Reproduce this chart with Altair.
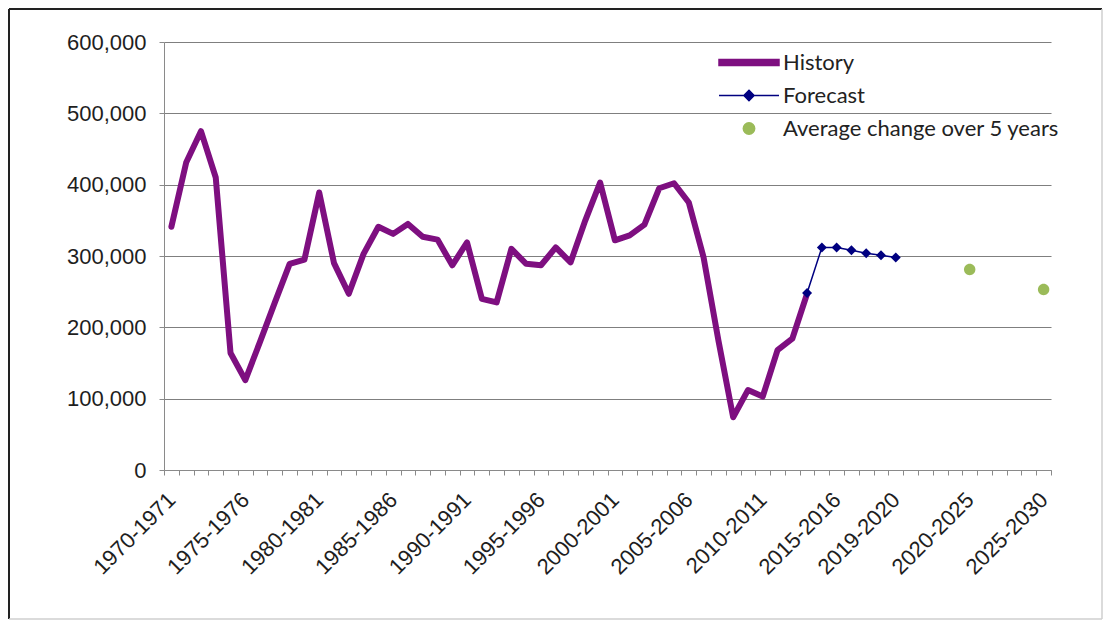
import altair as alt
import pandas as pd

# ---- data ----
series_names = ["History", "Forecast", "Average change over 5 years"]

# category index 0 = 1970-1971 ... 49 = 2019-2020, 54 = 2020-2025, 59 = 2025-2030
hist_idx = list(range(0, 44))
hist_values = [341000, 431000, 475000, 410000, 164000, 126000, 180000, 235000, 289000, 295000,
               389000, 290000, 247000, 303000, 341000, 331000, 345000, 327000, 323000, 287000,
               319000, 240000, 235000, 310000, 289000, 287000, 312000, 291000, 350000, 403000,
               322000, 329000, 344000, 395000, 402000, 375000, 298000, 182000, 74000, 112000,
               103000, 168000, 184000, 247000]

fc_idx = [43, 44, 45, 46, 47, 48, 49]
fc_values = [248000, 312000, 312000, 308000, 304000, 301000, 298000]

avg_idx = [54, 59]
avg_values = [281000, 253000]

shown_labels = {0: "1970-1971", 5: "1975-1976", 10: "1980-1981", 15: "1985-1986",
                20: "1990-1991", 25: "1995-1996", 30: "2000-2001", 35: "2005-2006",
                40: "2010-2011", 45: "2015-2016", 49: "2019-2020", 54: "2020-2025",
                59: "2025-2030"}

y_ticks = [0, 100000, 200000, 300000, 400000, 500000, 600000]
y_tick_labels = ["0", "100,000", "200,000", "300,000", "400,000", "500,000", "600,000"]

# ---- frames ----
hist_df = pd.DataFrame({"idx": hist_idx, "value": hist_values, "series": "History"})
fc_df = pd.DataFrame({"idx": fc_idx, "value": fc_values, "series": "Forecast"})
avg_df = pd.DataFrame({"idx": avg_idx, "value": avg_values, "series": "Average change over 5 years"})

N_CAT = 60
W, H = 887, 428
step = W / N_CAT

label_arr = [shown_labels.get(i, "") for i in range(N_CAT + 1)]
label_js = "[" + ",".join("'" + s + "'" for s in label_arr) + "]"
ylab_js = "[" + ",".join("'" + s + "'" for s in y_tick_labels) + "]"

PURPLE = "#7E0F80"
NAVY = "#000080"
GREEN = "#9BBB59"
GRID = "#8a8a8a"
LABEL_FONT = "Liberation Sans"

x_enc = alt.X(
    "idx:Q",
    scale=alt.Scale(domain=[-0.5, N_CAT - 0.5], nice=False, zero=False),
    axis=alt.Axis(
        title=None,
        values=[i - 0.5 for i in range(N_CAT + 1)],
        labelExpr=label_js + "[round(datum.value + 0.5)]",
        labelOffset=step / 2,
        labelAngle=-45,
        labelAlign="right",
        labelBaseline="middle",
        labelPadding=21,
        labelOverlap=False,
        labelFlush=False,
        labelBound=False,
        labelFont=LABEL_FONT,
        labelFontSize=22,
        labelColor="#1e1e1e",
        grid=False,
        tickSize=5,
        tickColor=GRID,
        domainColor=GRID,
    ),
)

y_enc = alt.Y(
    "value:Q",
    scale=alt.Scale(domain=[0, 600000], nice=False),
    axis=alt.Axis(
        title=None,
        values=y_ticks,
        labelExpr=ylab_js + "[round(datum.value / 100000)]",
        labelFont=LABEL_FONT,
        labelFontSize=22,
        labelColor="#1e1e1e",
        labelOverlap=False,
        labelFlush=False,
        grid=True,
        gridColor="#7f7f7f",
        gridWidth=1.2,
        tickSize=5,
        tickColor=GRID,
        domainColor=GRID,
        labelPadding=13,
    ),
)

legend = alt.Legend(
    title=None,
    orient="none",
    legendX=554,
    legendY=5,
    symbolSize=3600,
    symbolStrokeWidth=1.5,
    clipHeight=31,
    labelFont="Lato",
    labelFontSize=22,
    labelColor="#222222",
    labelOffset=3,
    labelLimit=500,
    rowPadding=2,
    padding=0,
)

hist_sym = "M-1,-0.1H1V0.1H-1Z"
fc_sym = "M-1,0H1M0,-0.17L0.17,0L0,0.17L-0.17,0Z"
avg_sym = "M-0.19,0A0.19,0.19,0,1,0,0.19,0A0.19,0.19,0,1,0,-0.19,0Z"

color_enc = alt.Color(
    "series:N",
    scale=alt.Scale(domain=series_names, range=[PURPLE, NAVY, GREEN]),
    legend=legend,
)
shape_enc = alt.Shape(
    "series:N",
    scale=alt.Scale(domain=series_names, range=[hist_sym, fc_sym, avg_sym]),
    legend=legend,
)

hist_line = alt.Chart(hist_df).mark_line(strokeWidth=6, strokeJoin="round", strokeCap="round").encode(
    x=x_enc, y=y_enc, color=color_enc
)
fc_line = alt.Chart(fc_df).mark_line(strokeWidth=1.5).encode(
    x=x_enc, y=y_enc, color=color_enc
)
fc_pts = alt.Chart(fc_df).mark_point(shape="diamond", filled=True, size=100, opacity=1).encode(
    x=x_enc, y=y_enc, color=color_enc
)
avg_pts = alt.Chart(avg_df).mark_point(filled=True, size=3600, opacity=1, strokeWidth=0).encode(
    x=x_enc, y=y_enc, color=color_enc, shape=shape_enc
)

# chart-area frame
one = pd.DataFrame({"k": [0]})
frame_left = alt.Chart(one).mark_rule(color="#222222", strokeWidth=2).encode(
    x=alt.value(-155), y=alt.value(-33), y2=alt.value(577))
frame_top = alt.Chart(one).mark_rule(color="#222222", strokeWidth=2).encode(
    x=alt.value(-155), x2=alt.value(938), y=alt.value(-33))
frame_right = alt.Chart(one).mark_rule(color="#cfcfcf", strokeWidth=1.5).encode(
    x=alt.value(938), y=alt.value(-33), y2=alt.value(577))
frame_bottom = alt.Chart(one).mark_rule(color="#cfcfcf", strokeWidth=1.5).encode(
    x=alt.value(-155), x2=alt.value(938), y=alt.value(577))

chart = alt.layer(
    hist_line, fc_line, fc_pts, avg_pts, frame_left, frame_top, frame_right, frame_bottom
).properties(
    width=W, height=H,
    background="white",
    autosize=alt.AutoSizeParams(type="none"),
    padding={"left": 156, "top": 34, "right": 52, "bottom": 150},
).configure_view(
    stroke=None
)

chart.save("out.html", embed_options={"renderer": "svg", "actions": False})
